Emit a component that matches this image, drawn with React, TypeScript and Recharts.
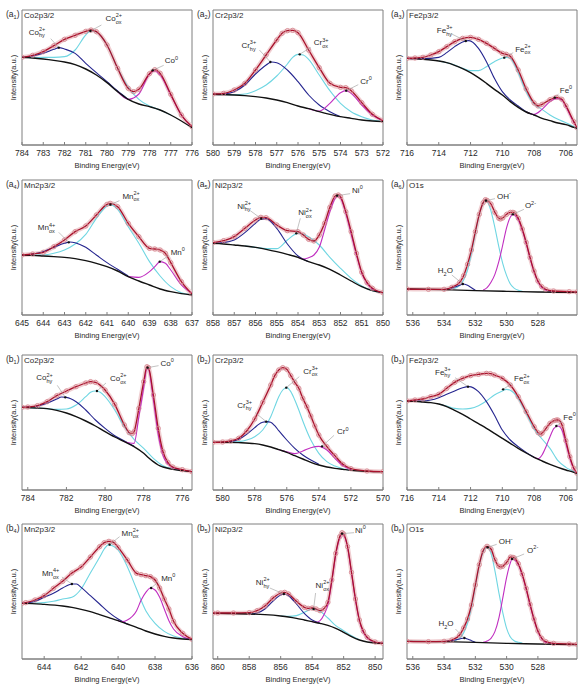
import React from 'react';
import { ComposedChart, Line, XAxis, YAxis, ReferenceArea, ReferenceDot } from 'recharts';

type Pt = [number, number];

// ---------- (a1) Co2p3/2 ----------
const a1Ticks = [784, 783, 782, 781, 780, 779, 778, 777, 776];
const a1Bg: Pt[] = [[784,263],[783.5,261],[783,258],[782.5,254],[782,249],[781.5,241],[781,228],[780.5,210],[780,187],[779.5,160],[779,137],[778.5,123],[778,115],[777.5,105],[777,90],[776.5,72],[776,52]];
const a1Hy: Pt[] = [[784,263],[783.5,267],[783,275],[782.5,287],[782.25,292],[782,288],[781.5,275],[781,245],[780.5,217],[780,190],[779.5,162],[779,137]];
const a1Ox: Pt[] = [[784,263],[783.5,262],[783,263],[782.5,263],[782,265],[781.5,285],[781,330],[780.75,343],[780.5,339],[780,300],[779.5,230],[779,173],[778.5,137],[778,117],[777.5,105],[777,90]];
const a1Met: Pt[] = [[779.5,160],[779,137],[778.5,153],[778,213],[777.75,222],[777.5,210],[777,150],[776.5,90],[776,54]];
const a1Fit: Pt[] = [[784,263],[783.5,269],[783,280],[782.5,298],[782,317],[781.5,329],[781,341],[780.75,345],[780.5,340],[780,300],[779.5,230],[779,170],[778.75,160],[778.5,167],[778,214],[777.75,226],[777.5,215],[777,152],[776.5,90],[776,55]];

// ---------- (a2) Cr2p3/2 ----------
const a2Ticks = [580, 579, 578, 577, 576, 575, 574, 573, 572];
const a2Bg: Pt[] = [[580,152],[579.5,151],[579,150],[578.5,148],[578,145],[577.5,141],[577,135],[576.5,127],[576,117],[575.5,109],[575,100],[574.5,92],[574,85],[573.5,80],[573,75],[572.5,72],[572,70]];
const a2Hy: Pt[] = [[580,152],[579.5,153],[579,160],[578.5,180],[578,213],[577.5,240],[577.25,249],[577,247],[576.5,225],[576,190],[575.5,150],[575,120],[574.5,100],[574,85]];
const a2Ox: Pt[] = [[580,152],[579,151],[578.5,153],[578,163],[577.5,180],[577,207],[576.5,243],[576.25,263],[576,272],[575.75,270],[575.5,257],[575,210],[574.5,163],[574,125],[573.5,100],[573,85],[572.5,75],[572,70]];
const a2Met: Pt[] = [[575.5,109],[575,102],[574.5,125],[574,157],[573.75,163],[573.5,155],[573,120],[572.5,90],[572,73]];
const a2Fit: Pt[] = [[580,153],[579.5,155],[579,165],[578.5,185],[578,225],[577.5,270],[577,315],[576.75,335],[576.5,343],[576.25,344],[576,337],[575.5,285],[575,232],[574.5,185],[574,173],[573.75,172],[573.5,163],[573,127],[572.5,92],[572,73]];

// ---------- (a3) Fe2p3/2 ----------
const a3Ticks = [716, 714, 712, 710, 708, 706];
const a3Bg: Pt[] = [[716,260],[715.5,259],[715,257],[714.5,255],[714,252],[713.5,247],[713,239],[712.5,229],[712,217],[711.5,202],[711,185],[710.5,167],[710,150],[709.5,130],[709,113],[708.5,99],[708,90],[707.5,80],[707,73],[706.5,66],[706,61],[705.5,53],[705.3,50]];
const a3Hy: Pt[] = [[716,260],[715,259],[714,263],[713.5,277],[713,295],[712.5,309],[712.1,313],[711.5,290],[711,250],[710.5,200],[710,160],[709.5,135],[709,117],[708.5,100],[708,90]];
const a3Ox: Pt[] = [[714,252],[713,240],[712.5,230],[712,223],[711.5,223],[711,235],[710.5,250],[710,261],[709.75,263],[709.5,260],[709,217],[708.5,160],[708,123],[707.5,107],[707,90],[706.5,77],[706,67],[705.5,55],[705.3,50]];
const a3Met: Pt[] = [[708.5,99],[708,92],[707.5,107],[707,130],[706.6,140],[706.25,135],[706,115],[705.5,68],[705.3,52]];
const a3Fit: Pt[] = [[716,260],[715.5,261],[715,263],[714.5,270],[714,280],[713.5,295],[713,310],[712.5,320],[712,323],[711.5,317],[711,305],[710.5,290],[710,275],[709.75,272],[709.5,266],[709,225],[708.5,168],[708,126],[707.75,117],[707.5,122],[707,136],[706.6,143],[706.25,137],[706,118],[705.5,70],[705.3,52]];

// ---------- (a4) Mn2p3/2 ----------
const a4Ticks = [645, 644, 643, 642, 641, 640, 639, 638, 637];
const a4Bg: Pt[] = [[645,180],[644.5,179],[644,177],[643.5,175],[643,173],[642.5,169],[642,163],[641.5,155],[641,145],[640.5,132],[640,115],[639.5,102],[639,90],[638.5,78],[638,70],[637.5,64],[637,60]];
const a4Ox4: Pt[] = [[645,180],[644.5,183],[644,190],[643.5,203],[643,215],[642.75,219],[642.5,217],[642,203],[641.5,180],[641,157],[640.5,137],[640,117]];
const a4Ox2: Pt[] = [[645,180],[644,180],[643.5,185],[643,195],[642.5,213],[642,242],[641.5,290],[641,327],[640.85,331],[640.5,317],[640,265],[639.5,215],[639,160],[638.5,117],[638,85],[637.5,67],[637,60]];
const a4Met: Pt[] = [[640,115],[639.5,113],[639,130],[638.75,145],[638.5,160],[638.25,155],[638,135],[637.5,90],[637,65]];
const a4Fit: Pt[] = [[645,180],[644.5,183],[644,188],[643.5,205],[643,225],[642.5,250],[642,267],[641.5,300],[641,332],[640.85,335],[640.5,325],[640,275],[639.5,235],[639,200],[638.75,198],[638.5,195],[638.25,185],[638,157],[637.5,100],[637,63]];

// ---------- (a5) Ni2p3/2 ----------
const a5Ticks = [858, 857, 856, 855, 854, 853, 852, 851, 850];
const a5Bg: Pt[] = [[858,215],[857.5,213],[857,210],[856.5,207],[856,203],[855.5,197],[855,190],[854.5,182],[854,173],[853.5,160],[853,150],[852.5,137],[852,120],[851.5,102],[851,85],[850.5,73],[850,67]];
const a5Hy: Pt[] = [[858,215],[857.5,217],[857,225],[856.5,247],[856,275],[855.75,287],[855.5,289],[855,260],[854.5,213],[854,177],[853.5,160]];
const a5Ox: Pt[] = [[856.5,207],[856,203],[855.5,199],[855,199],[854.5,225],[854,245],[853.75,242],[853.5,235],[853,210],[852.5,173],[852,140],[851.5,110],[851,87],[850.5,73],[850,67]];
const a5Met: Pt[] = [[854,173],[853.75,168],[853.5,172],[853.25,180],[853,203],[852.75,255],[852.5,310],[852.25,350],[852.1,357],[852,351],[851.75,305],[851.5,243],[851.25,180],[851,125],[850.75,95],[850.5,78],[850,67]];
const a5Fit: Pt[] = [[858,217],[857.5,223],[857,235],[856.5,260],[856,285],[855.75,293],[855.5,292],[855,270],[854.5,253],[854,250],[853.75,240],[853.5,227],[853.25,222],[853,240],[852.75,275],[852.5,323],[852.25,357],[852.1,360],[852,355],[851.75,310],[851.5,250],[851.25,185],[851,128],[850.75,97],[850.5,80],[850,67]];

// ---------- (a6) O1s ----------
const a6Ticks = [536, 534, 532, 530, 528];
const a6Bg: Pt[] = [[536.37,78],[534,76],[532,73],[530,71],[528,69],[525.5,68]];
const a6H2O: Pt[] = [[534,76],[533.5,81],[533,89],[532.8,93],[532.5,89],[532.25,82],[532,74]];
const a6OH: Pt[] = [[533.5,77],[533,88],[532.75,105],[532.5,135],[532.25,185],[532,245],[531.75,300],[531.5,335],[531.36,342],[531.25,340],[531,312],[530.75,262],[530.5,205],[530.25,155],[530,118],[529.75,92],[529.5,80],[529.25,74],[529,71]];
const a6O2: Pt[] = [[531.5,75],[531.25,82],[531,98],[530.75,122],[530.5,160],[530.25,210],[530,262],[529.75,295],[529.6,302],[529.5,300],[529.25,285],[529,255],[528.75,215],[528.5,170],[528.25,130],[528,100],[527.75,83],[527.5,75],[527,70]];
const a6Fit: Pt[] = [[536.37,78],[535,77],[534,77],[533.5,83],[533,98],[532.75,118],[532.5,152],[532.25,195],[532,250],[531.75,302],[531.5,337],[531.36,346],[531.25,344],[531,333],[530.75,308],[530.5,290],[530.4,288],[530.25,291],[530,302],[529.75,308],[529.6,308],[529.5,306],[529.25,290],[529,258],[528.75,218],[528.5,172],[528.25,132],[528,102],[527.75,85],[527.5,77],[527,72],[526,70],[525.5,69]];

// ---------- (b1) Co2p3/2 ----------
const b1Ticks = [784, 782, 780, 778, 776];
const b1Bg: Pt[] = [[784.3,248],[784,247],[783.5,246],[783,244],[782.5,239],[782,231],[781.5,220],[781,207],[780.5,192],[780,175],[779.5,159],[779,145],[778.5,130],[778,110],[777.75,97],[777.5,85],[777.25,75],[777,69],[776.5,62],[776,58],[775.5,55]];
const b1Hy: Pt[] = [[784.3,248],[784,249],[783.5,252],[783,260],[782.5,273],[782.25,279],[782,278],[781.5,265],[781,240],[780.5,210],[780,185],[779.5,163],[779,147],[778.5,131]];
const b1Ox: Pt[] = [[784,247],[783,244],[782.5,242],[782,243],[781.5,255],[781,280],[780.75,293],[780.5,297],[780.25,293],[780,280],[779.5,240],[779,190],[778.5,152],[778,125],[777.5,95],[777,73],[776.5,63],[776,58]];
const b1Met: Pt[] = [[779,145],[778.5,140],[778.25,220],[778,307],[777.83,365],[777.75,362],[777.5,270],[777.25,167],[777,103],[776.75,78],[776.5,67],[776,60],[775.5,55]];
const b1Fit: Pt[] = [[784.3,248],[784,249],[783.5,253],[783,265],[782.5,283],[782,297],[781.5,310],[781,321],[780.75,325],[780.5,323],[780,300],[779.5,257],[779,195],[778.75,172],[778.6,169],[778.5,175],[778.25,245],[778,325],[777.83,370],[777.75,367],[777.5,285],[777.25,185],[777,115],[776.75,83],[776.5,69],[776,61],[775.5,55]];

// ---------- (b2) Cr2p3/2 ----------
const b2Ticks = [580, 578, 576, 574, 572, 570];
const b2Bg: Pt[] = [[580.6,143],[580,143],[579,142],[578,139],[577.5,135],[577,129],[576.5,121],[576,113],[575.5,103],[575,93],[574.5,83],[574,75],[573.5,69],[573,65],[572.5,62],[572,59],[571,56],[570,55]];
const b2Hy: Pt[] = [[580,143],[579.5,145],[579,152],[578.5,167],[578,187],[577.75,197],[577.5,203],[577.25,205],[577,203],[576.75,193],[576.5,178],[576,150],[575.5,125],[575,105],[574.5,90],[574,77]];
const b2Ox: Pt[] = [[579.5,143],[579,145],[578.5,150],[578,160],[577.5,180],[577,220],[576.75,250],[576.5,280],[576.25,300],[576,307],[575.75,295],[575.5,270],[575.25,240],[575,207],[574.5,150],[574,110],[573.5,85],[573,72],[572.5,64],[572,59]];
const b2Met: Pt[] = [[576.5,121],[576,115],[575.5,109],[575,117],[574.5,127],[574,131],[573.5,120],[573,95],[572.5,73],[572,61]];
const b2Fit: Pt[] = [[580.6,143],[580,144],[579.5,147],[579,155],[578.5,177],[578,213],[577.5,263],[577,315],[576.75,343],[576.5,360],[576.25,367],[576,362],[575.75,343],[575.5,323],[575.25,305],[575,275],[574.75,250],[574.5,222],[574.25,192],[574,165],[573.5,130],[573,103],[572.5,77],[572,64],[571,57],[570,55]];

// ---------- (b3) Fe2p3/2 ----------
const b3Ticks = [716, 714, 712, 710, 708, 706];
const b3Bg: Pt[] = [[716,267],[715.5,266],[715,264],[714.5,262],[714,258],[713.5,250],[713,239],[712.5,227],[712,213],[711.5,199],[711,185],[710.5,170],[710,155],[709.5,140],[709,125],[708.5,111],[708,98],[707.5,87],[707,77],[706.5,68],[706,60],[705.5,53],[705.3,49]];
const b3Hy: Pt[] = [[716,267],[715,267],[714.5,270],[714,277],[713.5,287],[713,297],[712.5,307],[712.1,310],[711.5,295],[711,265],[710.5,225],[710,180],[709.5,150],[709,130],[708.5,113],[708,98]];
const b3Ox: Pt[] = [[714,258],[713.5,252],[713,245],[712.5,243],[712,245],[711.5,253],[711,267],[710.5,285],[710,297],[709.75,302],[709.5,299],[709,275],[708.5,230],[708,183],[707.5,153],[707,125],[706.5,88],[706,68],[705.5,55],[705.3,49]];
const b3Met: Pt[] = [[708,98],[707.75,94],[707.5,105],[707.25,130],[707,160],[706.75,185],[706.5,192],[706.25,180],[706,140],[705.75,95],[705.5,63],[705.3,49]];
const b3Fit: Pt[] = [[716,267],[715.5,270],[715,273],[714.5,280],[714,287],[713.5,305],[713,323],[712.5,335],[712,343],[711.5,347],[711,350],[710.75,349],[710.5,345],[710,335],[709.5,315],[709,280],[708.5,235],[708,190],[707.75,172],[707.6,167],[707.5,170],[707.25,185],[707,200],[706.75,208],[706.6,210],[706.5,210],[706.25,196],[706,148],[705.75,100],[705.5,65],[705.3,50]];

// ---------- (b4) Mn2p3/2 ----------
const b4Ticks = [644, 642, 640, 638, 636];
const b4Bg: Pt[] = [[645.2,167],[645,167],[644,164],[643,159],[642.5,155],[642,149],[641.5,142],[641,133],[640.5,124],[640,115],[639.5,105],[639,95],[638.5,84],[638,75],[637.5,68],[637,63],[636.5,60],[636,58]];
const b4Ox4: Pt[] = [[645.2,167],[644.5,173],[644,185],[643.5,197],[643,213],[642.5,225],[642.25,225],[642,215],[641.5,190],[641,165],[640.5,140],[640,120],[639.5,105]];
const b4Ox2: Pt[] = [[645,167],[644,169],[643.5,173],[643,180],[642.5,185],[642,210],[641.5,258],[641,305],[640.75,330],[640.5,343],[640.25,338],[640,327],[639.5,277],[639,210],[638.5,145],[638,107],[637.5,83],[637,69],[636.5,62],[636,58]];
const b4Met: Pt[] = [[640,115],[639.75,112],[639.5,117],[639,145],[638.75,177],[638.5,200],[638.25,213],[638,207],[637.75,185],[637.5,150],[637.25,115],[637,90],[636.5,67],[636,58]];
const b4Fit: Pt[] = [[645.2,167],[645,169],[644.5,177],[644,190],[643.5,212],[643,233],[642.5,258],[642,276],[641.5,306],[641,337],[640.75,349],[640.5,353],[640.25,350],[640,335],[639.5,297],[639,257],[638.75,253],[638.5,250],[638.25,247],[638,237],[637.75,213],[637.5,180],[637.25,150],[637,113],[636.5,77],[636,59]];

// ---------- (b5) Ni2p3/2 ----------
const b5Ticks = [860, 858, 856, 854, 852, 850];
const b5Bg: Pt[] = [[860.3,137],[860,137],[859,136],[858,135],[857,133],[856,129],[855.5,126],[855,122],[854.5,117],[854,112],[853.5,107],[853,101],[852.5,92],[852,80],[851.5,67],[851,57],[850.5,51],[850,48],[849.5,47]];
const b5Hy: Pt[] = [[858,135],[857.5,138],[857,150],[856.5,173],[856,192],[855.75,195],[855.5,190],[855,165],[854.5,137],[854,117],[853.75,112],[853.5,107]];
const b5Ox: Pt[] = [[856,129],[855.5,128],[855,130],[854.5,140],[854,150],[853.5,143],[853,123],[852.5,100],[852,85],[851.5,70],[851,58]];
const b5Met: Pt[] = [[854,112],[853.75,110],[853.5,115],[853.25,133],[853,163],[852.75,233],[852.5,313],[852.25,363],[852.1,375],[852,372],[851.75,335],[851.5,258],[851.25,178],[851,115],[850.75,80],[850.5,63],[850,50],[849.5,47]];
const b5Fit: Pt[] = [[860.3,138],[860,138],[859,138],[858,139],[857.5,145],[857,159],[856.5,182],[856,198],[855.75,200],[855.5,195],[855,173],[854.5,155],[854.25,152],[854,153],[853.75,150],[853.5,145],[853.25,151],[853,170],[852.75,237],[852.5,317],[852.25,367],[852.1,379],[852,375],[851.75,337],[851.5,260],[851.25,180],[851,117],[850.75,83],[850.5,65],[850,51],[849.5,47]];

// ---------- (b6) O1s ----------
const b6Ticks = [536, 534, 532, 530, 528];
const b6Bg: Pt[] = [[536.37,53],[534,52],[532,50],[530,47],[528,45],[525.5,43]];
const b6H2O: Pt[] = [[534,52],[533.5,55],[533,60],[532.7,63],[532.5,60],[532.25,55],[532,50]];
const b6OH: Pt[] = [[533.5,53],[533,62],[532.75,78],[532.5,108],[532.25,155],[532,218],[531.75,280],[531.5,322],[531.25,335],[531,318],[530.75,265],[530.5,200],[530.25,140],[530,92],[529.75,65],[529.5,54],[529.25,50],[529,48]];
const b6O2: Pt[] = [[531.5,50],[531.25,54],[531,62],[530.75,82],[530.5,122],[530.25,182],[530,245],[529.75,290],[529.65,300],[529.5,298],[529.25,283],[529,252],[528.75,210],[528.5,162],[528.25,118],[528,82],[527.75,60],[527.5,50],[527,46]];
const b6Fit: Pt[] = [[536.37,53],[535,52],[534,53],[533.5,57],[533,72],[532.75,93],[532.5,120],[532.25,162],[532,222],[531.75,283],[531.5,325],[531.25,338],[531,330],[530.75,298],[530.5,278],[530.4,276],[530.25,278],[530,290],[529.75,306],[529.6,305],[529.5,303],[529.25,286],[529,254],[528.75,212],[528.5,164],[528.25,120],[528,84],[527.75,62],[527.5,52],[527,47],[526,45],[525.5,44]];

// ---------- styling ----------
const C = {
  bg: '#111111',
  hy: '#25258f',
  ox: '#6fd6e2',
  met: '#c02ec0',
  fit: '#a8122c',
  obs: '#d4848e',
  band: '#f0cfd2',
  frame: '#7f7f7f',
  text: '#2a2a2a',
};
const FONT = "'Liberation Sans', Arial, Helvetica, sans-serif";
const Y_MAX = 405;

type Seg = { t: string; k?: 'sup' | 'sub' };
type Ann = { x: number; y: number; lx: number; ly: number; tx: number; ty: number; parts: Seg[] };
type Panel = {
  tag: string; num: string; title: string; left: number; top: number;
  domain: [number, number]; ticks: number[];
  bg: Pt[]; c1: Pt[]; c2: Pt[]; c3: Pt[]; fit: Pt[]; anns: Ann[];
};

const el = (b: string, s: string, sb?: string): Seg[] =>
  sb ? [{ t: b }, { t: s, k: 'sup' }, { t: sb, k: 'sub' }] : [{ t: b }, { t: s, k: 'sup' }];
const H2O: Seg[] = [{ t: 'H' }, { t: '2', k: 'sub' }, { t: 'O' }];

const COLS = [22, 213, 407];
const ROWS = [10, 180, 355, 524];

const panels: Panel[] = [
  { tag: 'a', num: '1', title: 'Co2p3/2', left: COLS[0], top: ROWS[0], domain: [776, 784], ticks: a1Ticks,
    bg: a1Bg, c1: a1Hy, c2: a1Ox, c3: a1Met, fit: a1Fit,
    anns: [
      { x: 782.27, y: 292, lx: -8, ly: -9, tx: -30, ty: -13, parts: el('Co', '2+', 'hy') },
      { x: 780.78, y: 342, lx: 11, ly: -6, tx: 15, ty: -10, parts: el('Co', '2+', 'ox') },
      { x: 777.85, y: 224, lx: 11, ly: -5, tx: 12, ty: -7, parts: el('Co', '0') },
    ] },
  { tag: 'a', num: '2', title: 'Cr2p3/2', left: COLS[1], top: ROWS[0], domain: [572, 580], ticks: a2Ticks,
    bg: a2Bg, c1: a2Hy, c2: a2Ox, c3: a2Met, fit: a2Fit,
    anns: [
      { x: 577.3, y: 249, lx: -11, ly: -12, tx: -29, ty: -14, parts: el('Cr', '3+', 'hy') },
      { x: 575.92, y: 272, lx: 11, ly: -7, tx: 14, ty: -9, parts: el('Cr', '3+', 'ox') },
      { x: 573.73, y: 163, lx: 12, ly: -6, tx: 14, ty: -7, parts: el('Cr', '0') },
    ] },
  { tag: 'a', num: '3', title: 'Fe2p3/2', left: COLS[2], top: ROWS[0], domain: [705.3, 716], ticks: a3Ticks,
    bg: a3Bg, c1: a3Hy, c2: a3Ox, c3: a3Met, fit: a3Fit,
    anns: [
      { x: 712.3, y: 312, lx: -14, ly: -7, tx: -29, ty: -8, parts: el('Fe', '3+', 'hy') },
      { x: 709.88, y: 262, lx: 9, ly: -5, tx: 11, ty: -6, parts: el('Fe', '2+', 'ox') },
      { x: 706.7, y: 142, lx: 4, ly: -4, tx: 5, ty: -5, parts: el('Fe', '0') },
    ] },
  { tag: 'a', num: '4', title: 'Mn2p3/2', left: COLS[0], top: ROWS[1], domain: [637, 645], ticks: a4Ticks,
    bg: a4Bg, c1: a4Ox4, c2: a4Ox2, c3: a4Met, fit: a4Fit,
    anns: [
      { x: 642.8, y: 218, lx: -10, ly: -10, tx: -31, ty: -12, parts: el('Mn', '4+', 'ox') },
      { x: 640.84, y: 331, lx: 9, ly: -4, tx: 12, ty: -6, parts: el('Mn', '2+', 'ox') },
      { x: 638.52, y: 160, lx: 9, ly: -6, tx: 11, ty: -7, parts: el('Mn', '0') },
    ] },
  { tag: 'a', num: '5', title: 'Ni2p3/2', left: COLS[1], top: ROWS[1], domain: [850, 858], ticks: a5Ticks,
    bg: a5Bg, c1: a5Hy, c2: a5Ox, c3: a5Met, fit: a5Fit,
    anns: [
      { x: 855.73, y: 289, lx: -11, ly: -8, tx: -24, ty: -10, parts: el('Ni', '2+', 'hy') },
      { x: 854.08, y: 245, lx: 4, ly: -15, tx: 2, ty: -18, parts: el('Ni', '2+', 'ox') },
      { x: 852.16, y: 358, lx: 13, ly: -2, tx: 15, ty: -3, parts: el('Ni', '0') },
    ] },
  { tag: 'a', num: '6', title: 'O1s', left: COLS[2], top: ROWS[1], domain: [525.5, 536.37], ticks: a6Ticks,
    bg: a6Bg, c1: a6H2O, c2: a6OH, c3: a6O2, fit: a6Fit,
    anns: [
      { x: 532.8, y: 93, lx: -11, ly: -9, tx: -25, ty: -11, parts: H2O },
      { x: 531.32, y: 343, lx: 9, ly: -2, tx: 11, ty: -2, parts: el('OH', '-') },
      { x: 529.6, y: 302, lx: 11, ly: -5, tx: 12, ty: -6, parts: el('O', '2-') },
    ] },
  { tag: 'b', num: '1', title: 'Co2p3/2', left: COLS[0], top: ROWS[2], domain: [775.5, 784.3], ticks: b1Ticks,
    bg: b1Bg, c1: b1Hy, c2: b1Ox, c3: b1Met, fit: b1Fit,
    anns: [
      { x: 782.06, y: 278, lx: -8, ly: -12, tx: -29, ty: -17, parts: el('Co', '2+', 'hy') },
      { x: 780.42, y: 297, lx: 9, ly: -8, tx: 13, ty: -10, parts: el('Co', '2+', 'ox') },
      { x: 777.8, y: 367, lx: 11, ly: -2, tx: 13, ty: -2, parts: el('Co', '0') },
    ] },
  { tag: 'b', num: '2', title: 'Cr2p3/2', left: COLS[1], top: ROWS[2], domain: [570, 580.6], ticks: b2Ticks,
    bg: b2Bg, c1: b2Hy, c2: b2Ox, c3: b2Met, fit: b2Fit,
    anns: [
      { x: 577.28, y: 205, lx: -11, ly: -9, tx: -29, ty: -14, parts: el('Cr', '3+', 'hy') },
      { x: 576.03, y: 307, lx: 13, ly: -11, tx: 17, ty: -14, parts: el('Cr', '3+', 'ox') },
      { x: 573.8, y: 131, lx: 12, ly: -11, tx: 15, ty: -12, parts: el('Cr', '0') },
    ] },
  { tag: 'b', num: '3', title: 'Fe2p3/2', left: COLS[2], top: ROWS[2], domain: [705.3, 716], ticks: b3Ticks,
    bg: b3Bg, c1: b3Hy, c2: b3Ox, c3: b3Met, fit: b3Fit,
    anns: [
      { x: 712.16, y: 310, lx: -13, ly: -9, tx: -33, ty: -12, parts: el('Fe', '3+', 'hy') },
      { x: 709.95, y: 302, lx: 9, ly: -6, tx: 11, ty: -8, parts: el('Fe', '2+', 'ox') },
      { x: 706.6, y: 192, lx: 6, ly: -5, tx: 7, ty: -6, parts: el('Fe', '0') },
    ] },
  { tag: 'b', num: '4', title: 'Mn2p3/2', left: COLS[0], top: ROWS[3], domain: [636, 645.2], ticks: b4Ticks,
    bg: b4Bg, c1: b4Ox4, c2: b4Ox2, c3: b4Met, fit: b4Fit,
    anns: [
      { x: 642.5, y: 225, lx: -10, ly: -7, tx: -30, ty: -8, parts: el('Mn', '4+', 'ox') },
      { x: 640.46, y: 343, lx: 10, ly: -8, tx: 12, ty: -9, parts: el('Mn', '2+', 'ox') },
      { x: 638.21, y: 213, lx: 7, ly: -6, tx: 10, ty: -7, parts: el('Mn', '0') },
    ] },
  { tag: 'b', num: '5', title: 'Ni2p3/2', left: COLS[1], top: ROWS[3], domain: [849.5, 860.3], ticks: b5Ticks,
    bg: b5Bg, c1: b5Hy, c2: b5Ox, c3: b5Met, fit: b5Fit,
    anns: [
      { x: 855.8, y: 195, lx: -14, ly: -6, tx: -28, ty: -9, parts: el('Ni', '2+', 'hy') },
      { x: 853.91, y: 150, lx: 2, ly: -16, tx: 2, ty: -21, parts: el('Ni', '2+', 'ox') },
      { x: 852.1, y: 376, lx: 12, ly: -1, tx: 13, ty: -1, parts: el('Ni', '0') },
    ] },
  { tag: 'b', num: '6', title: 'O1s', left: COLS[2], top: ROWS[3], domain: [525.5, 536.37], ticks: b6Ticks,
    bg: b6Bg, c1: b6H2O, c2: b6OH, c3: b6O2, fit: b6Fit,
    anns: [
      { x: 532.7, y: 63, lx: -9, ly: -9, tx: -26, ty: -12, parts: H2O },
      { x: 531.21, y: 335, lx: 9, ly: -3, tx: 11, ty: -3, parts: el('OH', '-') },
      { x: 529.65, y: 300, lx: 12, ly: -5, tx: 15, ty: -6, parts: el('O', '2-') },
    ] },
];

const FS = 8;
const SS = 5.5;
const CW: Record<string, number> = { '0': 0.556, '2': 0.556, '3': 0.556, '4': 0.556, '+': 0.584, '-': 0.333 };
const estW = (s: string, fs: number) => s.split('').reduce((w, ch) => w + (CW[ch] ?? 0.53) * fs, 0);

function renderParts(parts: Seg[]) {
  let level = 0;
  let prevSupW = 0;
  return parts.map((p, i) => {
    const k = p.k;
    const target = k === 'sup' ? -3.6 : k === 'sub' ? 2.6 : 0;
    const dy = target - level;
    const dx = k === 'sub' && i > 0 && parts[i - 1].k === 'sup' ? -prevSupW : 0;
    level = target;
    if (k === 'sup') prevSupW = estW(p.t, SS);
    return (
      <tspan key={i} dx={dx || undefined} dy={dy || undefined} fontSize={k ? SS : FS}>
        {p.t}
      </tspan>
    );
  });
}

function AnnShape({ cx, cy, a }: { cx: number; cy: number; a: Ann }) {
  if (cx == null || cy == null || Number.isNaN(cx) || Number.isNaN(cy)) return null;
  return (
    <g>
      <line x1={cx} y1={cy} x2={cx + a.lx} y2={cy + a.ly} stroke="#9a9a9a" strokeWidth={0.6} />
      <circle cx={cx} cy={cy} r={1.2} fill="#111" />
      <text x={cx + a.tx} y={cy + a.ty} fontSize={FS} fill={C.text}>
        {renderParts(a.parts)}
      </text>
    </g>
  );
}

const rows = (a: Pt[]) => a.map(([e, v]) => ({ e, v }));

const RM = 12;
const W = 14 + 170 + RM;
const H = 173;

function XpsPanel({ p }: { p: Panel }) {
  const fitRows = rows(p.fit);
  return (
    <div style={{ position: 'absolute', left: p.left - 14, top: p.top - 10, width: W, height: H }}>
      <ComposedChart width={W} height={H} margin={{ top: 10, right: RM, bottom: 0, left: 0 }}>
        <XAxis
          type="number"
          dataKey="e"
          domain={p.domain}
          reversed
          allowDataOverflow
          ticks={p.ticks}
          interval={0}
          height={28}
          tickSize={-3}
          tickMargin={8}
          tick={{ fontSize: 8.5, fill: C.text }}
          axisLine={{ stroke: C.frame }}
          tickLine={{ stroke: C.frame }}
          label={{ value: 'Binding Energy(eV)', position: 'insideBottom', offset: 5, fontSize: 7.5, fill: C.text }}
        />
        <YAxis
          type="number"
          domain={[0, Y_MAX]}
          width={14}
          tick={false}
          axisLine={false}
          tickLine={false}
          allowDataOverflow
          label={{ value: 'Intensity(a.u.)', angle: -90, position: 'insideLeft', offset: 5, fontSize: 7.5, fill: C.text, style: { textAnchor: 'middle' } }}
        />
        <ReferenceArea x1={p.domain[0]} x2={p.domain[1]} y1={0} y2={Y_MAX} fill="none" stroke={C.frame} strokeWidth={1} ifOverflow="visible" />
        <Line data={fitRows} dataKey="v" type="monotone" stroke={C.band} strokeWidth={4.5}
          dot={{ r: 2.2, stroke: C.obs, strokeWidth: 0.8, fill: 'none' }} activeDot={false} isAnimationActive={false} />
        <Line data={rows(p.c2)} dataKey="v" type="monotone" stroke={C.ox} strokeWidth={1.1} dot={false} activeDot={false} isAnimationActive={false} />
        <Line data={rows(p.c1)} dataKey="v" type="monotone" stroke={C.hy} strokeWidth={1.1} dot={false} activeDot={false} isAnimationActive={false} />
        <Line data={rows(p.c3)} dataKey="v" type="monotone" stroke={C.met} strokeWidth={1.1} dot={false} activeDot={false} isAnimationActive={false} />
        <Line data={rows(p.bg)} dataKey="v" type="monotone" stroke={C.bg} strokeWidth={1.4} dot={false} activeDot={false} isAnimationActive={false} />
        <Line data={fitRows} dataKey="v" type="monotone" stroke={C.fit} strokeWidth={1.3} dot={false} activeDot={false} isAnimationActive={false} />
        {p.anns.map((a, i) => (
          <ReferenceDot key={i} x={a.x} y={a.y} r={0} ifOverflow="visible"
            shape={(props: any) => <AnnShape cx={props.cx} cy={props.cy} a={a} />} />
        ))}
      </ComposedChart>
    </div>
  );
}

export default function App() {
  return (
    <div style={{ position: 'absolute', left: 0, top: 0, width: 580, height: 686, background: '#fff', fontFamily: FONT, overflow: 'hidden' }}>
      {panels.map((p, i) => (
        <XpsPanel key={i} p={p} />
      ))}
      <svg width={580} height={686} style={{ position: 'absolute', left: 0, top: 0, pointerEvents: 'none' }}>
        {panels.map((p, i) => (
          <g key={i} fill={C.text}>
            <text x={p.left - 16} y={p.top + 7} fontSize={8.5}>
              ({p.tag}
              <tspan fontSize={5.5} dy={1.8}>{p.num}</tspan>
              <tspan dy={-1.8}>)</tspan>
            </text>
            <text x={p.left + 2} y={p.top + 7.5} fontSize={8}>{p.title}</text>
          </g>
        ))}
      </svg>
    </div>
  );
}
